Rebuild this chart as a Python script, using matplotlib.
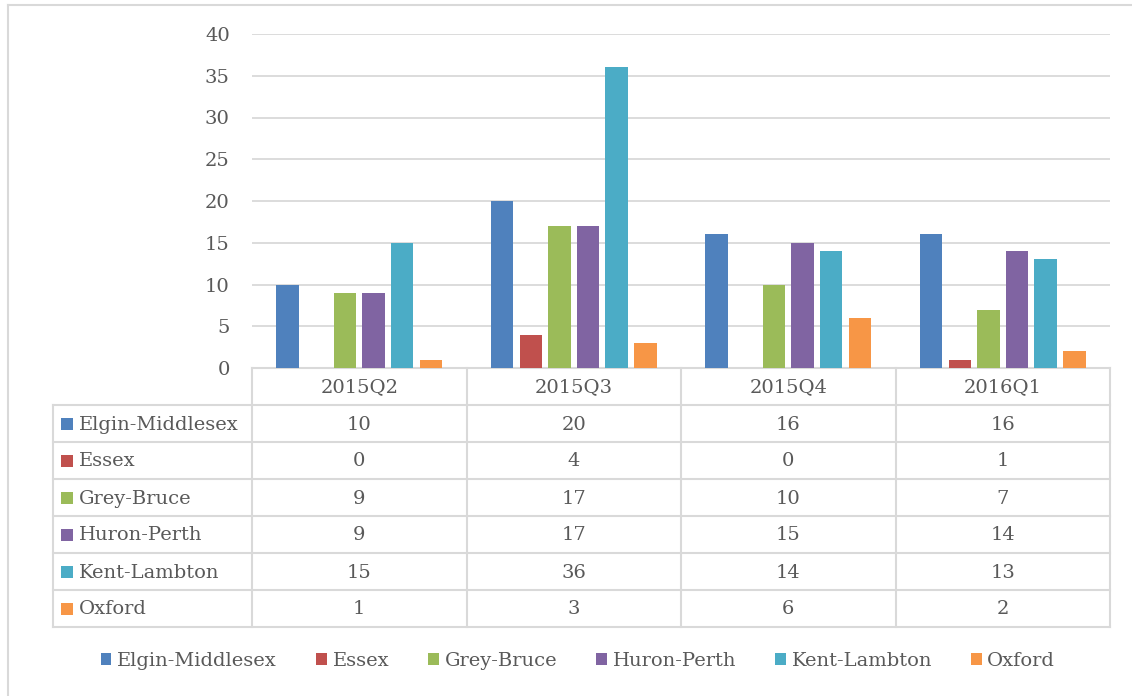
import matplotlib
matplotlib.use("Agg")
import matplotlib.pyplot as plt
from matplotlib.patches import Rectangle
import numpy as np

quarters = ["2015Q2", "2015Q3", "2015Q4", "2016Q1"]
regions = ["Elgin-Middlesex", "Essex", "Grey-Bruce", "Huron-Perth", "Kent-Lambton", "Oxford"]
elgin_middlesex = [10, 20, 16, 16]
essex = [0, 4, 0, 1]
grey_bruce = [9, 17, 10, 7]
huron_perth = [9, 17, 15, 14]
kent_lambton = [15, 36, 14, 13]
oxford = [1, 3, 6, 2]
series = [elgin_middlesex, essex, grey_bruce, huron_perth, kent_lambton, oxford]
colors = ["#4F81BD", "#C0504D", "#9BBB59", "#8064A2", "#4BACC6", "#F79646"]
yticks = [0, 5, 10, 15, 20, 25, 30, 35, 40]

plt.rcParams['font.family'] = ['DejaVu Serif']
FS = 14
TXT = "#595959"
GRID = "#D9D9D9"
W, H = 1132, 696
fig = plt.figure(figsize=(W / 100, H / 100), dpi=100)

def fx(px):
    return px / W

def fy(py):
    return 1 - py / H

# main plot area
x0, x1, ytop, ybot = 252, 1110, 34, 368
ax = fig.add_axes([fx(x0), fy(ybot), fx(x1 - x0), (ybot - ytop) / H])
n = len(series)
step = 0.1335
bw = 0.105
xs = np.arange(len(quarters))
handles = []
for i, (vals, c) in enumerate(zip(series, colors)):
    off = (i - (n - 1) / 2) * step
    b = ax.bar(xs + off, vals, width=bw, color=c, zorder=3, label=regions[i])
    handles.append(b)
ax.set_xlim(-0.5, len(quarters) - 0.5)
ax.set_ylim(0, 40)
ax.set_yticks(yticks)
ax.set_yticklabels([str(v) for v in yticks], fontsize=FS, color=TXT)
ax.tick_params(axis='y', length=0, pad=16)
ax.set_xticks([])
ax.grid(axis='y', color=GRID, lw=1.3, zorder=0)
for s in ["top", "right", "left"]:
    ax.spines[s].set_visible(False)
ax.spines["bottom"].set_color(GRID)
ax.spines["bottom"].set_linewidth(1.5)

# overlay for table and frame (pixel coordinates)
ov = fig.add_axes([0, 0, 1, 1], facecolor="none")
ov.set_xlim(0, W)
ov.set_ylim(H, 0)
ov.axis("off")

# outer chart frame
ov.plot([8, W], [5, 5], color=GRID, lw=1.5)
ov.plot([8, 8], [5, H], color=GRID, lw=1.5)

# table
tl = 53
row_h = 37
hdr_top = ybot
hdr_bot = hdr_top + row_h
col_w = (x1 - x0) / len(quarters)
rows_bottom = hdr_bot + row_h * len(regions)
for k in range(len(quarters) + 1):
    xx = x0 + k * col_w
    ov.plot([xx, xx], [hdr_top, rows_bottom], color=GRID, lw=1.5)
ov.plot([tl, tl], [hdr_bot, rows_bottom], color=GRID, lw=1.5)
for r in range(len(regions) + 1):
    yy = hdr_bot + r * row_h
    ov.plot([tl, x1], [yy, yy], color=GRID, lw=1.5)
for k, q in enumerate(quarters):
    ov.text(x0 + (k + 0.5) * col_w, hdr_top + row_h / 2 + 1, q, ha="center", va="center",
            fontsize=FS, color=TXT)
for r, (name, vals, c) in enumerate(zip(regions, series, colors)):
    yc = hdr_bot + (r + 0.5) * row_h
    ov.add_patch(Rectangle((61, yc - 6), 12, 12, color=c, lw=0))
    ov.text(79, yc + 1, name, ha="left", va="center", fontsize=FS, color=TXT)
    for k, v in enumerate(vals):
        ov.text(x0 + (k + 0.5) * col_w, yc + 1, str(v), ha="center", va="center",
                fontsize=FS, color=TXT)

# legend
leg = fig.legend(handles=handles, labels=regions, loc="center", bbox_to_anchor=(fx(578), fy(661)),
                 ncol=6, frameon=False, fontsize=FS, handlelength=0.55, handleheight=0.55,
                 handletextpad=0.3, columnspacing=2.0)
for t in leg.get_texts():
    t.set_color(TXT)

fig.savefig("out.png", dpi=100)
